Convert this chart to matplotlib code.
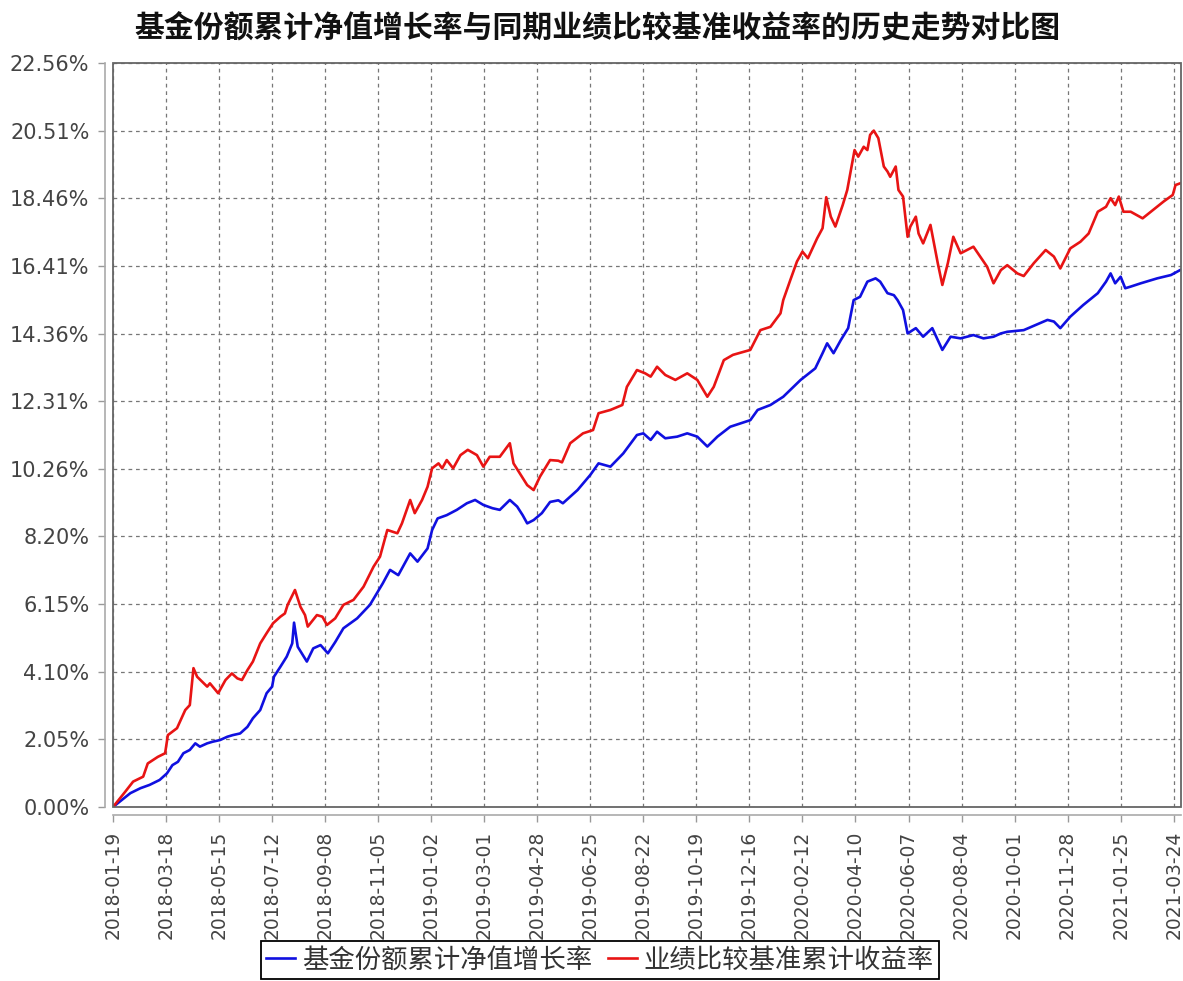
import pandas as pd
import numpy as np
import matplotlib
matplotlib.use("Agg")
import matplotlib.pyplot as plt
from matplotlib.patches import Rectangle
from matplotlib.lines import Line2D

plt.rcParams['font.family'] = ['DejaVu Sans', 'Noto Sans CJK SC']
plt.rcParams['axes.unicode_minus'] = False

# --- data ---
title = "基金份额累计净值增长率与同期业绩比较基准收益率的历史走势对比图"
fund_label = "基金份额累计净值增长率"
bench_label = "业绩比较基准累计收益率"

fund_dates = [
    "2018-01-19", "2018-02-07", "2018-02-18", "2018-02-28", "2018-03-11", "2018-03-19",
    "2018-03-25", "2018-03-31", "2018-04-06", "2018-04-13", "2018-04-19", "2018-04-24",
    "2018-05-02", "2018-05-08", "2018-05-16", "2018-05-24", "2018-05-30", "2018-06-07",
    "2018-06-15", "2018-06-21", "2018-06-29", "2018-07-06", "2018-07-12", "2018-07-14",
    "2018-07-21", "2018-07-28", "2018-08-03", "2018-08-05", "2018-08-09", "2018-08-19",
    "2018-08-26", "2018-09-03", "2018-09-11", "2018-09-19", "2018-09-28", "2018-10-13",
    "2018-10-27", "2018-11-10", "2018-11-18", "2018-11-27", "2018-12-10", "2018-12-18",
    "2018-12-29", "2019-01-03", "2019-01-09", "2019-01-19", "2019-01-30", "2019-02-10",
    "2019-02-19", "2019-02-28", "2019-03-10", "2019-03-18", "2019-03-29", "2019-04-06",
    "2019-04-12", "2019-04-17", "2019-04-24", "2019-05-03", "2019-05-12", "2019-05-21",
    "2019-05-26", "2019-06-11", "2019-06-25", "2019-07-04", "2019-07-17", "2019-07-31",
    "2019-08-15", "2019-08-22", "2019-08-30", "2019-09-06", "2019-09-15", "2019-09-28",
    "2019-10-09", "2019-10-20", "2019-10-31", "2019-11-11", "2019-11-25", "2019-12-17",
    "2019-12-25", "2020-01-08", "2020-01-22", "2020-02-10", "2020-02-26", "2020-03-05",
    "2020-03-10", "2020-03-17", "2020-03-25", "2020-04-02", "2020-04-08", "2020-04-15",
    "2020-04-23", "2020-05-02", "2020-05-07", "2020-05-15", "2020-05-22", "2020-05-26",
    "2020-06-01", "2020-06-06", "2020-06-15", "2020-06-23", "2020-07-03", "2020-07-14",
    "2020-07-23", "2020-08-03", "2020-08-17", "2020-08-28", "2020-09-08", "2020-09-16",
    "2020-09-23", "2020-10-11", "2020-11-06", "2020-11-13", "2020-11-20", "2020-12-01",
    "2020-12-15", "2020-12-31", "2021-01-09", "2021-01-14", "2021-01-19", "2021-01-25",
    "2021-01-30", "2021-02-05", "2021-02-16", "2021-03-06", "2021-03-21", "2021-03-31",
]
fund_values = [
    0.00, 0.42, 0.57, 0.67, 0.82, 1.02,
    1.27, 1.37, 1.63, 1.73, 1.93, 1.83,
    1.93, 1.98, 2.03, 2.13, 2.18, 2.23,
    2.43, 2.69, 2.94, 3.45, 3.65, 3.95,
    4.25, 4.56, 4.96, 5.59, 4.86, 4.41,
    4.81, 4.91, 4.66, 5.00, 5.42, 5.72,
    6.13, 6.78, 7.19, 7.03, 7.69, 7.44,
    7.84, 8.40, 8.75, 8.85, 9.01, 9.21,
    9.31, 9.16, 9.06, 9.01, 9.31, 9.11,
    8.85, 8.60, 8.70, 8.91, 9.25, 9.30,
    9.21, 9.61, 10.07, 10.42, 10.32, 10.72,
    11.28, 11.33, 11.13, 11.38, 11.18, 11.23,
    11.33, 11.23, 10.93, 11.23, 11.53, 11.73,
    12.04, 12.19, 12.44, 12.95, 13.30, 13.76,
    14.06, 13.76, 14.16, 14.52, 15.37, 15.47,
    15.93, 16.03, 15.93, 15.58, 15.52, 15.37,
    15.07, 14.36, 14.52, 14.26, 14.52, 13.86,
    14.26, 14.21, 14.31, 14.21, 14.26, 14.36,
    14.41, 14.46, 14.77, 14.72, 14.52, 14.87,
    15.22, 15.58, 15.93, 16.18, 15.88, 16.08,
    15.73, 15.78, 15.88, 16.03, 16.13, 16.28,
]

bench_dates = [
    "2018-01-19", "2018-02-01", "2018-02-10", "2018-02-21", "2018-02-26", "2018-03-09",
    "2018-03-17", "2018-03-20", "2018-03-30", "2018-04-08", "2018-04-13", "2018-04-17",
    "2018-04-21", "2018-05-02", "2018-05-05", "2018-05-14", "2018-05-22", "2018-05-29",
    "2018-06-04", "2018-06-09", "2018-06-15", "2018-06-21", "2018-06-29", "2018-07-06",
    "2018-07-13", "2018-07-21", "2018-07-26", "2018-07-29", "2018-08-06", "2018-08-12",
    "2018-08-17", "2018-08-20", "2018-08-30", "2018-09-05", "2018-09-10", "2018-09-19",
    "2018-09-28", "2018-10-09", "2018-10-20", "2018-10-31", "2018-11-07", "2018-11-15",
    "2018-11-26", "2018-12-01", "2018-12-10", "2018-12-15", "2018-12-23", "2018-12-29",
    "2019-01-03", "2019-01-10", "2019-01-14", "2019-01-19", "2019-01-26", "2019-02-03",
    "2019-02-11", "2019-02-21", "2019-02-28", "2019-03-07", "2019-03-18", "2019-03-29",
    "2019-04-02", "2019-04-09", "2019-04-17", "2019-04-24", "2019-05-01", "2019-05-12",
    "2019-05-21", "2019-05-25", "2019-06-03", "2019-06-17", "2019-06-28", "2019-07-04",
    "2019-07-17", "2019-07-30", "2019-08-04", "2019-08-15", "2019-08-24", "2019-08-30",
    "2019-09-06", "2019-09-15", "2019-09-26", "2019-10-09", "2019-10-20", "2019-10-31",
    "2019-11-07", "2019-11-18", "2019-11-28", "2019-12-17", "2019-12-28", "2020-01-08",
    "2020-01-19", "2020-01-22", "2020-01-30", "2020-02-06", "2020-02-12", "2020-02-18",
    "2020-02-28", "2020-03-05", "2020-03-09", "2020-03-14", "2020-03-19", "2020-03-27",
    "2020-04-01", "2020-04-06", "2020-04-09", "2020-04-13", "2020-04-19", "2020-04-23",
    "2020-04-26", "2020-04-30", "2020-05-05", "2020-05-11", "2020-05-15", "2020-05-18",
    "2020-05-24", "2020-05-27", "2020-06-01", "2020-06-06", "2020-06-09", "2020-06-15",
    "2020-06-18", "2020-06-23", "2020-07-01", "2020-07-09", "2020-07-14", "2020-07-20",
    "2020-07-26", "2020-08-03", "2020-08-17", "2020-09-01", "2020-09-08", "2020-09-16",
    "2020-09-23", "2020-10-04", "2020-10-11", "2020-10-22", "2020-11-04", "2020-11-13",
    "2020-11-20", "2020-12-01", "2020-12-12", "2020-12-21", "2020-12-31", "2021-01-09",
    "2021-01-14", "2021-01-19", "2021-01-23", "2021-01-28", "2021-02-05", "2021-02-18",
    "2021-02-27", "2021-03-13", "2021-03-23", "2021-03-26", "2021-03-31",
]
bench_values = [
    0.00, 0.45, 0.77, 0.92, 1.32, 1.52,
    1.63, 2.18, 2.39, 2.94, 3.09, 4.21,
    3.95, 3.65, 3.75, 3.45, 3.85, 4.05,
    3.90, 3.85, 4.15, 4.41, 4.96, 5.27,
    5.57, 5.77, 5.87, 6.13, 6.58, 6.07,
    5.82, 5.47, 5.82, 5.77, 5.52, 5.72,
    6.13, 6.28, 6.68, 7.29, 7.59, 8.40,
    8.30, 8.60, 9.31, 8.91, 9.31, 9.71,
    10.27, 10.42, 10.27, 10.52, 10.27, 10.67,
    10.83, 10.67, 10.32, 10.62, 10.62, 11.03,
    10.42, 10.11, 9.76, 9.61, 10.02, 10.52,
    10.50, 10.45, 11.03, 11.33, 11.43, 11.94,
    12.04, 12.19, 12.74, 13.25, 13.15, 13.05,
    13.35, 13.10, 12.95, 13.15, 12.95, 12.44,
    12.74, 13.55, 13.71, 13.86, 14.46, 14.56,
    14.97, 15.37, 16.00, 16.54, 16.84, 16.64,
    17.24, 17.55, 18.49, 17.90, 17.60, 18.25,
    18.71, 19.47, 19.92, 19.72, 20.02, 19.92,
    20.38, 20.51, 20.28, 19.42, 19.27, 19.11,
    19.42, 18.71, 18.51, 17.29, 17.60, 17.90,
    17.39, 17.09, 17.65, 16.49, 15.83, 16.49,
    17.29, 16.79, 16.99, 16.38, 15.88, 16.28,
    16.43, 16.18, 16.10, 16.49, 16.89, 16.69,
    16.33, 16.94, 17.14, 17.39, 18.05, 18.20,
    18.46, 18.25, 18.51, 18.05, 18.05, 17.85,
    18.05, 18.36, 18.56, 18.86, 18.91,
]

y_tick_labels = ["0.00%", "2.05%", "4.10%", "6.15%", "8.20%", "10.26%",
                 "12.31%", "14.36%", "16.41%", "18.46%", "20.51%", "22.56%"]
x_tick_dates = ["2018-01-19", "2018-03-18", "2018-05-15", "2018-07-12", "2018-09-08",
                "2018-11-05", "2019-01-02", "2019-03-01", "2019-04-28", "2019-06-25",
                "2019-08-22", "2019-10-19", "2019-12-16", "2020-02-12", "2020-04-10",
                "2020-06-07", "2020-08-04", "2020-10-01", "2020-11-28", "2021-01-25",
                "2021-03-24"]

fund_x = pd.to_datetime(fund_dates)
bench_x = pd.to_datetime(bench_dates)
xt = pd.to_datetime(x_tick_dates)

BLUE = '#1010e0'
RED = '#e81414'

# --- figure ---
W, H = 1183, 981
fig = plt.figure(figsize=(W / 100, H / 100), dpi=100)
ax = fig.add_axes([113 / W, 1 - 807 / H, (1181 - 113) / W, (807 - 63) / H])

ax.plot(fund_x, fund_values, color=BLUE, lw=1.9, zorder=3)
ax.plot(bench_x, bench_values, color=RED, lw=1.9, zorder=3)

ax.set_xlim(pd.Timestamp("2018-01-19"), pd.Timestamp("2021-04-01"))
ax.set_ylim(0, 22.56)

ax.set_yticks(np.linspace(0, 22.56, len(y_tick_labels)))
ax.set_yticklabels(y_tick_labels)
ax.set_xticks(xt)
ax.set_xticklabels(x_tick_dates)

ax.tick_params(axis='both', colors='#999999', labelcolor='#444444',
               length=5, width=1)
ax.tick_params(axis='y', pad=6, labelsize=15)
ax.tick_params(axis='x', pad=6, labelsize=13.5, labelrotation=90)

ax.grid(True, linestyle=(0, (3, 3)), color='#777777', lw=0.9)

# axis lines sit a little outside the plot frame
for s in ['top', 'right']:
    ax.spines[s].set_visible(False)
for s in ['left', 'bottom']:
    ax.spines[s].set_position(('outward', 6))
    ax.spines[s].set_color('#aaaaaa')
    ax.spines[s].set_linewidth(1.2)
ax.add_patch(Rectangle((0, 0), 1, 1, transform=ax.transAxes, fill=False,
                       edgecolor='#666666', lw=1.3, clip_on=False, zorder=4))

fig.text(0.505, 1 - 28 / H, title, ha='center', va='center', fontsize=21.5,
         fontweight='bold', color='#111111', family=['Noto Sans CJK SC', 'DejaVu Sans'])

handles = [Line2D([], [], color=BLUE, lw=1.9), Line2D([], [], color=RED, lw=1.9)]
leg = fig.legend(handles, [fund_label, bench_label], loc='center',
                 bbox_to_anchor=(600 / W, 1 - 960 / H), ncol=2,
                 frameon=True, fancybox=False, edgecolor='black', framealpha=1,
                 handlelength=1.1, handletextpad=0.25, columnspacing=0.6,
                 borderpad=0.2, borderaxespad=0.0,
                 prop={'family': ['Noto Sans CJK SC', 'DejaVu Sans'], 'size': 19})
leg.get_frame().set_linewidth(1.3)
for t in leg.get_texts():
    t.set_color('#333333')

fig.savefig("out.png", dpi=100, facecolor='white')
